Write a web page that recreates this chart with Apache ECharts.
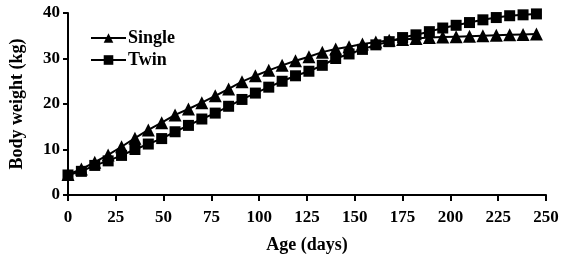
<!DOCTYPE html>
<html>
<head>
<meta charset="utf-8">
<script src="https://cdn.jsdelivr.net/npm/echarts@6/dist/echarts.min.js"></script>
<style>html,body{margin:0;padding:0;background:#fff}#c{width:564px;height:265px}</style>
</head>
<body>
<div id="c"></div>
<script>
var days = [0,7,14,21,28,35,42,49,56,63,70,77,84,91,98,105,112,119,126,133,140,147,154,161,168,175,182,189,196,203,210,217,224,231,238,245];
var single = [4.5,5.7,7.2,8.8,10.6,12.5,14.3,15.9,17.6,18.9,20.3,21.8,23.3,24.9,26.2,27.4,28.5,29.5,30.4,31.4,32.1,32.6,33.2,33.6,34.0,34.2,34.4,34.6,34.7,34.8,34.9,35.0,35.1,35.2,35.3,35.4];
var twin = [4.4,5.2,6.5,7.5,8.7,10.0,11.2,12.4,13.9,15.3,16.7,18.0,19.5,21.0,22.4,23.7,25.0,26.2,27.2,28.5,30.0,31.0,32.0,33.0,33.7,34.6,35.2,35.9,36.7,37.3,37.9,38.5,39.0,39.4,39.6,39.8];
var xTicks = [0,25,50,75,100,125,150,175,200,225,250];
var yTicks = [0,10,20,30,40];

function pairs(v){ return days.map(function(d,i){ return [d, v[i]]; }); }
var font = '"Liberation Serif", "DejaVu Serif", serif';
var chart = echarts.init(document.getElementById('c'), null, {renderer:'canvas'});
chart.setOption({
  animation:false,
  backgroundColor:'#fff',
  grid:{left:68, right:18, top:13, bottom:70, containLabel:false, outerBoundsMode:'none'},
  legend:{
    orient:'vertical', left:85, top:24, itemWidth:35, itemHeight:12, itemGap:4,
    textStyle:{fontFamily:font, fontWeight:'bold', fontSize:18, lineHeight:18, color:'#000', padding:[0,0,0,-3]},
    data:['Single','Twin']
  },
  xAxis:{
    type:'value', min:xTicks[0], max:xTicks[xTicks.length-1], interval:25,
    name:'Age (days)', nameLocation:'middle', nameGap:41,
    nameTextStyle:{fontFamily:font, fontWeight:'bold', fontSize:18, color:'#000'},
    axisLine:{lineStyle:{color:'#000', width:2}},
    axisTick:{length:6, lineStyle:{color:'#000', width:2}},
    axisLabel:{fontFamily:font, fontWeight:'bold', fontSize:17, color:'#000', margin:14},
    splitLine:{show:false}
  },
  yAxis:{
    type:'value', min:yTicks[0], max:yTicks[yTicks.length-1], interval:10,
    name:'Body weight (kg)', nameLocation:'middle', nameGap:42,
    nameTextStyle:{fontFamily:font, fontWeight:'bold', fontSize:18, color:'#000'},
    axisLine:{show:true, lineStyle:{color:'#000', width:2}},
    axisTick:{show:true, length:5, lineStyle:{color:'#000', width:2}},
    axisLabel:{fontFamily:font, fontWeight:'bold', fontSize:17, color:'#000', margin:8},
    splitLine:{show:false}
  },
  series:[
    {name:'Single', type:'line', data:pairs(single), symbol:'triangle', symbolSize:13,
     lineStyle:{color:'#000', width:2}, itemStyle:{color:'#000'}, z:3},
    {name:'Twin', type:'line', data:pairs(twin), symbol:'rect', symbolSize:11,
     lineStyle:{color:'#000', width:2}, itemStyle:{color:'#000'}, z:2}
  ]
});
</script>
</body>
</html>
